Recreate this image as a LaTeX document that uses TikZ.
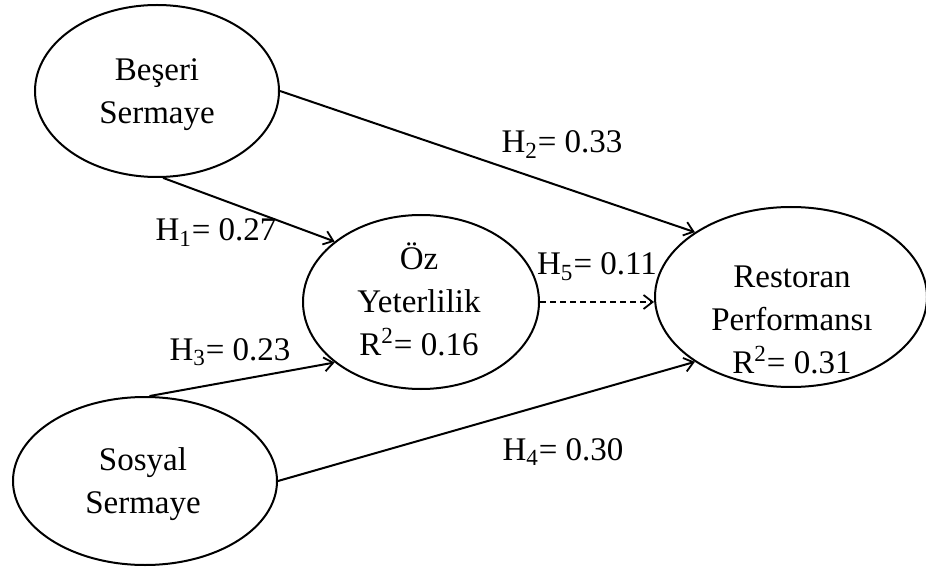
\documentclass[tikz,border=0pt]{standalone}
\usepackage{fontspec}
\setmainfont{Liberation Serif}
\usetikzlibrary{shapes.geometric,arrows.meta}
\begin{document}
\begin{tikzpicture}[x=0.5pt,y=-0.5pt,
  every node/.style={font=\fontsize{16.5}{21.5}\selectfont},
  latent/.style={draw,ellipse,line width=1pt,inner sep=0pt},
  txt/.style={align=center,inner sep=0pt},
  lab/.style={anchor=base,inner sep=0pt},
  path/.style={line width=1pt,-{Straight Barb[length=4.5pt,width=7pt,line width=0.9pt]}},
  dpath/.style={path,dash pattern=on 3pt off 2pt}]
\useasboundingbox (0,0) rectangle (926,572);
\node[latent,minimum width=122pt,minimum height=86pt] (bes) at (157,91) {};
\node[latent,minimum width=132pt,minimum height=84pt] (sos) at (145,481) {};
\node[latent,minimum width=118pt,minimum height=87pt] (oz) at (421,302) {};
\node[latent,minimum width=136pt,minimum height=90pt] (res) at (791,297) {};
\node[txt] (besT) at (157,93) {\strut Beşeri\\\strut Sermaye};
\node[txt] (sosT) at (143,483) {\strut Sosyal\\\strut Sermaye};
\node[txt] (ozT) at (419,304) {\strut Öz\\\strut Yeterlilik\\\strut R\textsuperscript{2}= 0.16};
\node[txt] (resT) at (792,322) {\strut Restoran\\\strut Performansı\\\strut R\textsuperscript{2}= 0.31};
\draw[path] (bes.east) -- (res.146.7);
\draw[path] (bes.-86) -- (oz.145);
\draw[path] (sos.87) -- (oz.215);
\draw[path] (sos.east) -- (res.214.4);
\draw[dpath] (oz.east) -- (oz.east -| res.west);
\node[lab] (h1) at (216,241) {H\textsubscript{1}= 0.27};
\node[lab] (h2) at (562,153) {H\textsubscript{2}= 0.33};
\node[lab] (h3) at (230,360) {H\textsubscript{3}= 0.23};
\node[lab] (h4) at (563,460) {H\textsubscript{4}= 0.30};
\node[lab] (h5) at (597,275) {H\textsubscript{5}= 0.11};
\end{tikzpicture}
\end{document}
